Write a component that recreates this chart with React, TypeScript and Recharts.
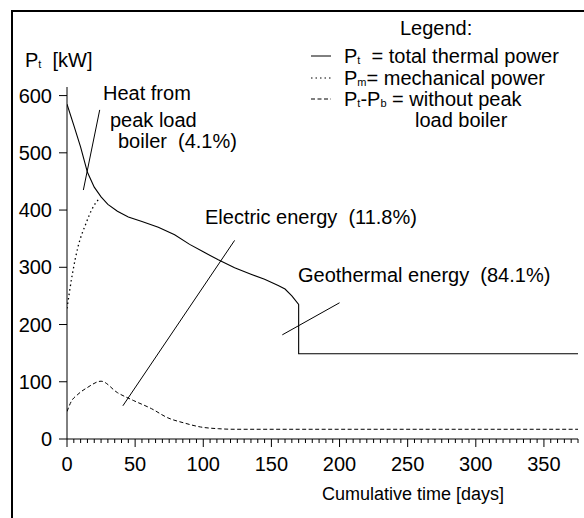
import { Line, LineChart, ReferenceLine, XAxis, YAxis } from 'recharts';

const FONT = '"Liberation Sans", Arial, sans-serif';

// P_t total thermal power (drop at day 170)
const totalDays = [0, 5, 10, 15, 20, 25, 30, 37, 45, 55, 67, 79, 90, 100, 111, 123, 135, 145, 155, 160, 165, 170, 170, 375];
const totalKw = [585, 548, 510, 466, 440, 423, 410, 398, 388, 380, 370, 357, 340, 327, 313, 299, 288, 279, 268, 262, 250, 235, 149, 149];

// P_m mechanical power
const mechDays = [0, 4, 8, 14, 18, 24];
const mechKw = [228, 289, 335, 377, 400, 421];

// P_t - P_b without peak load boiler
const baseDays = [0, 3, 8, 15, 25, 37, 49, 62, 74, 86, 98, 111, 123, 375];
const baseKw = [48, 65, 78, 90, 101, 81, 67, 53, 37, 28, 21, 18, 17, 17];

const xTickLabels = [0, 50, 100, 150, 200, 250, 300, 350];
const xMinorTicks = Array.from({ length: 76 }, (_, i) => i * 5);
const yTicks = [0, 100, 200, 300, 400, 500, 600];

// annotation pointers [day, kW]
const boilerPointer = [[12, 435], [24, 575]];
const electricPointer = [[41, 58], [123, 347]];
const geoPointer = [[158, 182], [200, 238]];

const toRows = (days: number[], kw: number[]) => days.map((d, i) => ({ day: d, kw: kw[i] }));
const toSegment = (p: number[][]) => p.map(([x, y]) => ({ x, y }));

const totalData = toRows(totalDays, totalKw);
const mechData = toRows(mechDays, mechKw);
const baseData = toRows(baseDays, baseKw);

const DOTTED = '1.5 3';
const DASHED = '4 2.5';

function XTick(props: any) {
  const { x, y, payload } = props;
  const major = xTickLabels.includes(payload.value);
  return (
    <g>
      <line x1={x} x2={x} y1={y} y2={y + (major ? 8 : 4)} stroke="#000" />
      {major && (
        <text x={x} y={y + 32} textAnchor="middle" fontSize={20} fill="#000" fontFamily={FONT}>
          {payload.value}
        </text>
      )}
    </g>
  );
}

const sub = { fontSize: 11, lineHeight: '10px', position: 'relative', top: 1 } as const;

const label = (left: number, top: number, lh = 20) =>
  ({ position: 'absolute', left, top, lineHeight: `${lh}px`, whiteSpace: 'pre' }) as const;

function LegendBox() {
  const rows = [
    { key: 'total', dash: undefined, text: <>P<span style={sub}>t</span>{'  = total thermal power'}</> },
    { key: 'mech', dash: DOTTED, text: <>P<span style={sub}>m</span>= mechanical power</> },
    { key: 'base', dash: DASHED, text: <>P<span style={sub}>t</span>-P<span style={sub}>b</span> = without peak</> },
  ];
  return (
    <>
      <div style={label(400, 18)}>Legend:</div>
      {rows.map((r, i) => (
        <div key={r.key}>
          <svg style={{ position: 'absolute', left: 311, top: 50 + i * 21.5 }} width={22} height={12}>
            <line x1={0} x2={20} y1={6} y2={6} stroke="#000" strokeWidth={1} strokeDasharray={r.dash} />
          </svg>
          <div style={label(344, 48 + i * 21.5, 16)}>{r.text}</div>
        </div>
      ))}
      <div style={label(415, 110)}>load boiler</div>
    </>
  );
}

export default function App() {
  return (
    <div
      style={{
        position: 'absolute',
        left: 0,
        top: 0,
        width: 584,
        height: 518,
        background: '#fff',
        fontFamily: FONT,
        fontSize: 20,
        color: '#000',
      }}
    >
      <div style={{ position: 'absolute', left: 11, top: 10, width: 573, height: 508, borderLeft: '2px solid #000', borderTop: '2px solid #000' }} />
      <LineChart width={584} height={518} margin={{ top: 87, right: 6, bottom: 49, left: 10 }}>
        <XAxis
          type="number"
          dataKey="day"
          domain={[0, 375]}
          ticks={xMinorTicks}
          interval={0}
          tickSize={0}
          tickMargin={0}
          tick={<XTick />}
          axisLine={{ stroke: '#000' }}
          height={30}
          allowDataOverflow
        />
        <YAxis
          type="number"
          domain={[0, 615]}
          ticks={yTicks}
          interval={0}
          width={57}
          tickSize={8}
          tickMargin={7}
          tickLine={{ stroke: '#000' }}
          axisLine={{ stroke: '#000' }}
          tick={{ fill: '#000', fontSize: 20, fontFamily: FONT }}
          allowDataOverflow
        />
        <ReferenceLine segment={toSegment(boilerPointer)} stroke="#000" strokeWidth={1} />
        <ReferenceLine segment={toSegment(electricPointer)} stroke="#000" strokeWidth={1} />
        <ReferenceLine segment={toSegment(geoPointer)} stroke="#000" strokeWidth={1} />
        <Line data={totalData} dataKey="kw" name="total" type="linear" stroke="#000" strokeWidth={1.1} dot={false} isAnimationActive={false} />
        <Line data={mechData} dataKey="kw" name="mech" type="monotone" stroke="#000" strokeWidth={1.3} strokeDasharray={DOTTED} dot={false} isAnimationActive={false} />
        <Line data={baseData} dataKey="kw" name="base" type="monotone" stroke="#000" strokeWidth={1} strokeDasharray={DASHED} dot={false} isAnimationActive={false} />
      </LineChart>
      <LegendBox />
      <div style={label(25, 50)}>
        P<span style={sub}>t</span>{'  [kW]'}
      </div>
      <div style={label(103, 83)}>Heat from</div>
      <div style={label(110, 110)}>peak load</div>
      <div style={label(118, 131)}>{'boiler  (4.1%)'}</div>
      <div style={label(205, 207)}>{'Electric energy  (11.8%)'}</div>
      <div style={label(298, 265)}>{'Geothermal energy  (84.1%)'}</div>
      <div style={{ ...label(322, 484), fontSize: 18 }}>Cumulative time [days]</div>
    </div>
  );
}
